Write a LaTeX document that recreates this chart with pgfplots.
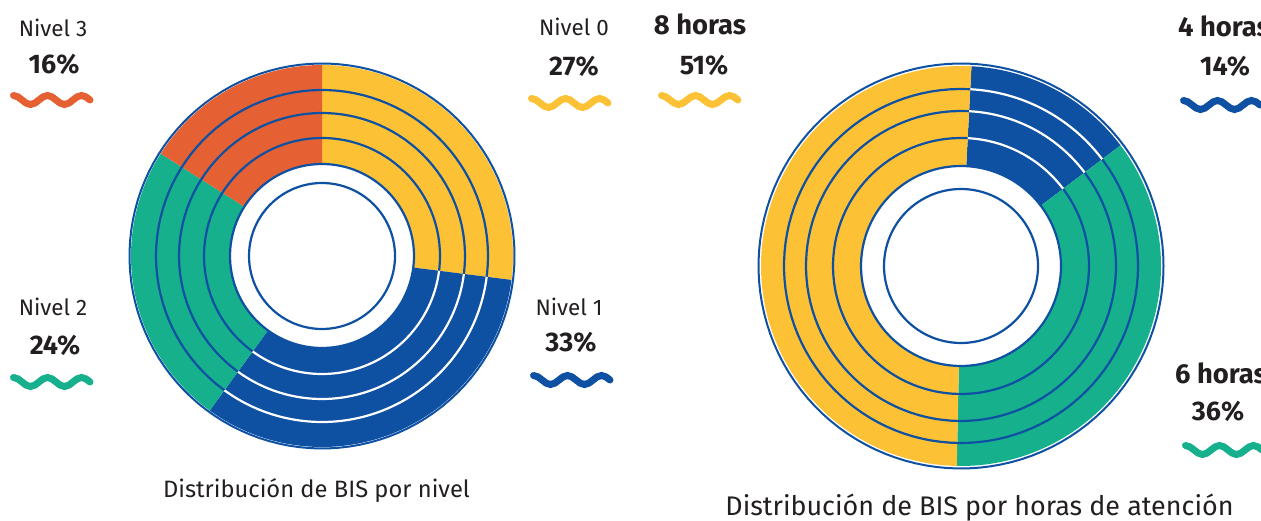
\documentclass[border=0pt]{standalone}
\usepackage{fontspec}
\setmainfont{Fira Sans}
\usepackage{pgfplots}
\usepackage{pgfplotstable}
\pgfplotsset{compat=1.18}

\definecolor{cyel}{RGB}{253,193,53}
\definecolor{cblu}{RGB}{14,80,162}
\definecolor{cgrn}{RGB}{23,176,141}
\definecolor{cora}{RGB}{229,97,52}
\definecolor{ctxt}{RGB}{35,31,32}

% Distribution by level (%)
\pgfplotstableread{
seg pct
0 27
1 33
2 24
3 16
}\nivel
% Distribution by hours (%)
\pgfplotstableread{
seg pct
4 14
6 36
8 51
}\horas

\pgfplotstablegetelem{0}{pct}\of\nivel\edef\nA{\pgfplotsretval}
\pgfplotstablegetelem{1}{pct}\of\nivel\edef\nB{\pgfplotsretval}
\pgfplotstablegetelem{2}{pct}\of\nivel\edef\nC{\pgfplotsretval}
\pgfplotstablegetelem{3}{pct}\of\nivel\edef\nD{\pgfplotsretval}
\pgfplotstablegetelem{0}{pct}\of\horas\edef\hA{\pgfplotsretval}
\pgfplotstablegetelem{1}{pct}\of\horas\edef\hB{\pgfplotsretval}
\pgfplotstablegetelem{2}{pct}\of\horas\edef\hC{\pgfplotsretval}

\pgfmathsetmacro{\Ls}{360/(\nA+\nB+\nC+\nD)}
\pgfmathsetmacro{\Lzero}{90}
\pgfmathsetmacro{\Lone}{\Lzero-\Ls*\nA}
\pgfmathsetmacro{\Ltwo}{\Lone-\Ls*\nB}
\pgfmathsetmacro{\Lthree}{\Ltwo-\Ls*\nC}
\pgfmathsetmacro{\Lfour}{\Lthree-\Ls*\nD}

\pgfmathsetmacro{\Rs}{360/(\hA+\hB+\hC)}
\pgfmathsetmacro{\Rzero}{87}
\pgfmathsetmacro{\Rone}{\Rzero-\Rs*\hA}
\pgfmathsetmacro{\Rtwo}{\Rone-\Rs*\hB}
\pgfmathsetmacro{\Rthree}{\Rtwo-\Rs*\hC}

% sector: colour, cx, cy, R, angle low, angle high
\newcommand{\sector}[6]{%
  \addplot[fill=#1, draw=none, mark=none, domain=#5:#6, samples=120, variable=\t]
    ({#2+#4*cos(\t)},{#3+#4*sin(\t)}) -- (axis cs:#2,#3) -- cycle;}
% arc: colour, width, cx, cy, R, angle low, angle high
\newcommand{\arcp}[7]{%
  \addplot[draw=#1, line width=#2, mark=none, domain=#6:#7, samples=120, variable=\t]
    ({#3+#5*cos(\t)},{#4+#5*sin(\t)});}
% wave: colour, x start, y centre
\newcommand{\wave}[3]{%
  \draw[#1, line width=7bp, line cap=round] (axis cs:#2,#3) ++(0,4.5bp)
    cos ++(8.5bp,-4.5bp) sin ++(8.5bp,-4.5bp) cos ++(8.5bp,4.5bp) sin ++(8.5bp,4.5bp)
    cos ++(8.5bp,-4.5bp) sin ++(8.5bp,-4.5bp) cos ++(8.5bp,4.5bp) sin ++(8.5bp,4.5bp)
    cos ++(8.5bp,-4.5bp);}

\newcommand{\flab}{\fontsize{22.5}{26}\selectfont}
\newcommand{\fnum}{\fontsize{27}{31}\selectfont\bfseries}
\newcommand{\fhrs}{\fontsize{27.5}{31}\selectfont\bfseries}
\newcommand{\fcapA}{\fontsize{23.8}{28}\selectfont}
\newcommand{\fcapB}{\fontsize{27}{31}\selectfont}

\begin{document}
\begin{tikzpicture}
\useasboundingbox (0,0) rectangle (1261bp,521bp);
\begin{axis}[
  at={(0,0)}, anchor=south west,
  scale only axis, width=1261bp, height=521bp,
  xmin=0, xmax=1261, ymin=0, ymax=521,
  hide axis, clip=true,
]
% ---------- left donut ----------
\sector{cyel}{322}{265}{191}{\Lone}{\Lzero}
\sector{cblu}{322}{265}{191}{\Ltwo}{\Lone}
\sector{cgrn}{322}{265}{191}{\Lthree}{\Ltwo}
\sector{cora}{322}{265}{191}{\Lfour}{\Lthree}
\sector{white}{322}{265}{92}{0}{360}
\arcp{cblu}{2.2bp}{322}{265}{166}{0}{360}
\arcp{cblu}{2.2bp}{322}{265}{143}{0}{360}
\arcp{cblu}{2.2bp}{322}{265}{118}{0}{360}
\arcp{cblu}{2.2bp}{322}{265}{92}{0}{360}
\arcp{cblu}{2bp}{322}{265}{192.5}{0}{360}
\arcp{white}{2.2bp}{322}{265}{166}{\Ltwo}{\Lone}
\arcp{white}{2.2bp}{322}{265}{143}{\Ltwo}{\Lone}
\arcp{white}{2.2bp}{322}{265}{118}{\Ltwo}{\Lone}
\arcp{cblu}{2.2bp}{322}{265}{73}{0}{360}
% ---------- right donut ----------
\sector{cblu}{961}{255}{200}{\Rone}{\Rzero}
\sector{cgrn}{961}{255}{200}{\Rtwo}{\Rone}
\sector{cyel}{961}{255}{200}{\Rthree}{\Rtwo}
\sector{white}{961}{255}{100}{0}{360}
\arcp{cblu}{2.2bp}{961}{255}{177}{0}{360}
\arcp{cblu}{2.2bp}{961}{255}{155}{0}{360}
\arcp{cblu}{2.2bp}{961}{255}{128}{0}{360}
\arcp{cblu}{2.2bp}{961}{255}{100}{0}{360}
\arcp{cblu}{2bp}{961}{255}{202.5}{0}{360}
\arcp{white}{2.2bp}{961}{255}{177}{\Rone}{\Rzero}
\arcp{white}{2.2bp}{961}{255}{155}{\Rone}{\Rzero}
\arcp{white}{2.2bp}{961}{255}{128}{\Rone}{\Rzero}
\arcp{cblu}{2.2bp}{961}{255}{77}{0}{360}
% ---------- labels ----------
\node[anchor=base, text=ctxt, font=\flab] at (axis cs:53,484) {Nivel 3};
\node[anchor=base, text=ctxt, font=\fnum] at (axis cs:54,447) {16\%};
\wave{cora}{13.5}{421}
\node[anchor=base, text=ctxt, font=\flab] at (axis cs:574,485) {Nivel 0};
\node[anchor=base, text=ctxt, font=\fnum] at (axis cs:574,445) {27\%};
\wave{cyel}{531.5}{418}
\node[anchor=base, text=ctxt, font=\flab] at (axis cs:53,205) {Nivel 2};
\node[anchor=base, text=ctxt, font=\fnum] at (axis cs:55,166) {24\%};
\wave{cgrn}{13.5}{139}
\node[anchor=base, text=ctxt, font=\flab] at (axis cs:569,205) {Nivel 1};
\node[anchor=base, text=ctxt, font=\fnum] at (axis cs:571,169) {33\%};
\wave{cblu}{533.5}{141}
\node[anchor=base, text=ctxt, font=\fhrs] at (axis cs:700,486) {8 horas};
\node[anchor=base, text=ctxt, font=\fnum] at (axis cs:704,446) {51\%};
\wave{cyel}{661.5}{421}
\node[anchor=base, text=ctxt, font=\fhrs] at (axis cs:1224,484) {4 horas};
\node[anchor=base, text=ctxt, font=\fnum] at (axis cs:1225,445) {14\%};
\wave{cblu}{1183.5}{416}
\node[anchor=base, text=ctxt, font=\fhrs] at (axis cs:1221,137) {6 horas};
\node[anchor=base, text=ctxt, font=\fnum] at (axis cs:1218,100) {36\%};
\wave{cgrn}{1185.5}{71}
\node[anchor=base, text=ctxt, font=\fcapA] at (axis cs:316.5,24) {Distribución de BIS por nivel};
\node[anchor=base, text=ctxt, font=\fcapB] at (axis cs:979.5,6) {Distribución de BIS por horas de atención};
\end{axis}
\end{tikzpicture}
\end{document}
